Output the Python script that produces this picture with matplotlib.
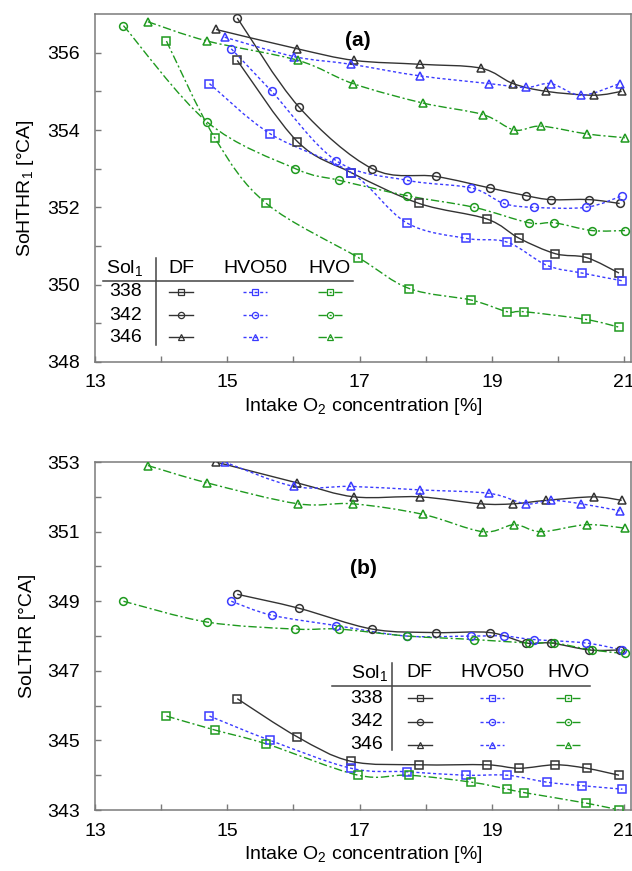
import matplotlib
matplotlib.use("Agg")
import matplotlib.pyplot as plt
import numpy as np
from matplotlib.path import Path
from matplotlib.patches import PathPatch

plt.rcParams['font.family'] = ['Liberation Sans', 'DejaVu Sans']
plt.rcParams['font.size'] = 14
plt.rcParams['mathtext.default'] = 'regular'

# intake O2 [%] for each fuel / start of injection
x_df_338 = [15.15, 16.06, 16.87, 17.90, 18.92, 19.41, 19.96, 20.43, 20.92]
x_df_342 = [15.15, 16.08, 17.19, 18.15, 18.97, 19.52, 19.89, 20.47, 20.93]
x_df_346 = [14.83, 16.06, 16.92, 17.91, 18.83, 19.32, 19.82, 20.54, 20.96]
x_h50_338 = [14.73, 15.65, 16.87, 17.71, 18.60, 19.23, 19.83, 20.36, 20.97]
x_h50_342 = [15.06, 15.67, 16.65, 17.71, 18.69, 19.18, 19.63, 20.42, 20.97]
x_h50_346 = [14.96, 16.01, 16.87, 17.91, 18.96, 19.51, 19.89, 20.35, 20.93]
x_hvo_338 = [14.08, 14.81, 15.59, 16.98, 17.75, 18.69, 19.23, 19.49, 20.42, 20.92]
x_hvo_342 = [13.43, 14.70, 16.03, 16.69, 17.72, 18.73, 19.56, 19.94, 20.51, 21.01]
x_hvo_346 = [13.80, 14.70, 16.07, 16.90, 17.95, 18.86, 19.34, 19.74, 20.43, 21.01]

# (a) SoHTHR1 [deg CA]
a_df_338 = [355.8, 353.7, 352.9, 352.1, 351.7, 351.2, 350.8, 350.7, 350.3]
a_df_342 = [356.9, 354.6, 353.0, 352.8, 352.5, 352.3, 352.2, 352.2, 352.1]
a_df_346 = [356.6, 356.1, 355.8, 355.7, 355.6, 355.2, 355.0, 354.9, 355.0]
a_h50_338 = [355.2, 353.9, 352.9, 351.6, 351.2, 351.1, 350.5, 350.3, 350.1]
a_h50_342 = [356.1, 355.0, 353.2, 352.7, 352.5, 352.1, 352.0, 352.0, 352.3]
a_h50_346 = [356.4, 355.9, 355.7, 355.4, 355.2, 355.1, 355.2, 354.9, 355.2]
a_hvo_338 = [356.3, 353.8, 352.1, 350.7, 349.9, 349.6, 349.3, 349.3, 349.1, 348.9]
a_hvo_342 = [356.7, 354.2, 353.0, 352.7, 352.3, 352.0, 351.6, 351.6, 351.4, 351.4]
a_hvo_346 = [356.8, 356.3, 355.8, 355.2, 354.7, 354.4, 354.0, 354.1, 353.9, 353.8]

# (b) SoLTHR [deg CA]
b_df_338 = [346.2, 345.1, 344.4, 344.3, 344.3, 344.2, 344.3, 344.2, 344.0]
b_df_342 = [349.2, 348.8, 348.2, 348.1, 348.1, 347.8, 347.8, 347.6, 347.6]
b_df_346 = [353.0, 352.4, 352.0, 352.0, 351.8, 351.8, 351.9, 352.0, 351.9]
b_h50_338 = [345.7, 345.0, 344.2, 344.1, 344.0, 344.0, 343.8, 343.7, 343.6]
b_h50_342 = [349.0, 348.6, 348.3, 348.0, 348.0, 348.0, 347.9, 347.8, 347.6]
b_h50_346 = [353.0, 352.3, 352.3, 352.2, 352.1, 351.8, 351.9, 351.8, 351.6]
b_hvo_338 = [345.7, 345.3, 344.9, 344.0, 344.0, 343.8, 343.6, 343.5, 343.2, 343.0]
b_hvo_342 = [349.0, 348.4, 348.2, 348.2, 348.0, 347.9, 347.8, 347.8, 347.6, 347.5]
b_hvo_346 = [352.9, 352.4, 351.8, 351.8, 351.5, 351.0, 351.2, 351.0, 351.2, 351.1]

fuels = ['DF', 'HVO50', 'HVO']
sois = ['338', '342', '346']

styles = {
    'DF': dict(color='#333333', ls='-'),
    'HVO50': dict(color='#3b3bff', ls=(0, (2.2, 1.8))),
    'HVO': dict(color='#1f9a1f', ls=(0, (6, 2, 1.5, 2))),
}
markers = {'338': ('s', 5.2), '342': ('o', 5.6), '346': ('^', 5.8)}

xs = {
    ('DF', '338'): x_df_338, ('DF', '342'): x_df_342, ('DF', '346'): x_df_346,
    ('HVO50', '338'): x_h50_338, ('HVO50', '342'): x_h50_342, ('HVO50', '346'): x_h50_346,
    ('HVO', '338'): x_hvo_338, ('HVO', '342'): x_hvo_342, ('HVO', '346'): x_hvo_346,
}
ys_a = {
    ('DF', '338'): a_df_338, ('DF', '342'): a_df_342, ('DF', '346'): a_df_346,
    ('HVO50', '338'): a_h50_338, ('HVO50', '342'): a_h50_342, ('HVO50', '346'): a_h50_346,
    ('HVO', '338'): a_hvo_338, ('HVO', '342'): a_hvo_342, ('HVO', '346'): a_hvo_346,
}
ys_b = {
    ('DF', '338'): b_df_338, ('DF', '342'): b_df_342, ('DF', '346'): b_df_346,
    ('HVO50', '338'): b_h50_338, ('HVO50', '342'): b_h50_342, ('HVO50', '346'): b_h50_346,
    ('HVO', '338'): b_hvo_338, ('HVO', '342'): b_hvo_342, ('HVO', '346'): b_hvo_346,
}

SPINE = '#7a7a7a'


def smooth_path(x, y):
    # cubic bezier through the points (spreadsheet style smoothed line)
    p = np.column_stack([x, y]).astype(float)
    n = len(p)
    verts = [p[0]]
    codes = [Path.MOVETO]
    for i in range(n - 1):
        p0 = p[i - 1] if i > 0 else p[i]
        p3 = p[i + 2] if i + 2 < n else p[i + 1]
        c1 = p[i] + (p[i + 1] - p0) / 6.0
        c2 = p[i + 1] - (p3 - p[i]) / 6.0
        verts += [c1, c2, p[i + 1]]
        codes += [Path.CURVE4] * 3
    return Path(verts, codes)


def draw_series(ax, ys):
    for f in fuels:
        for s in sois:
            x = xs[(f, s)]
            y = ys[(f, s)]
            st = styles[f]
            ax.add_patch(PathPatch(smooth_path(x, y), fill=False, edgecolor=st['color'],
                                   linestyle=st['ls'], linewidth=1.0, zorder=2))
            m, ms = markers[s]
            ax.plot(x, y, ls='none', marker=m, ms=ms, mfc='none', mec=st['color'],
                    mew=1.1, zorder=3)


def style_axes(ax, ylim, ylabel):
    ax.set_xlim(13, 21.1)
    ax.set_ylim(*ylim)
    ax.set_xticks([13, 15, 17, 19, 21])
    ax.set_xticks(np.arange(14, 21, 2), minor=True)
    ax.set_yticks(np.arange(ylim[0], ylim[1] + 0.1, 2))
    ax.set_yticks(np.arange(ylim[0] + 1, ylim[1], 2), minor=True)
    ax.tick_params(which='both', direction='in', length=4.5, width=1, color=SPINE,
                   labelsize=14, top=False, right=False)
    ax.tick_params(axis='x', pad=9)
    ax.tick_params(axis='y', pad=11)
    for sp in ax.spines.values():
        sp.set_color(SPINE)
        sp.set_linewidth(1.1)
    ax.set_xlabel('Intake O$_2$ concentration [%]', fontsize=14, labelpad=3)
    ax.set_ylabel(ylabel, fontsize=14, labelpad=8)


def draw_table(ax, x_sol, x_cols, x_rule, y_head, y_rule, x_vert, y_vert, y_rows, x_rowlab):
    tr = ax.transAxes
    ax.text(x_sol, y_head, 'Sol$_1$', transform=tr, ha='center', va='center', fontsize=14)
    for f, xc in zip(fuels, x_cols):
        ax.text(xc, y_head, f, transform=tr, ha='center', va='center', fontsize=14)
    ax.plot(x_rule, [y_rule, y_rule], transform=tr, color='#444444', lw=1.1)
    ax.plot([x_vert, x_vert], y_vert, transform=tr, color='#444444', lw=1.1)
    for s, yr in zip(sois, y_rows):
        ax.text(x_rowlab, yr, s, transform=tr, ha='right', va='center', fontsize=14)
        for f, xc in zip(fuels, x_cols):
            st = styles[f]
            ax.plot([xc - 0.022, xc + 0.022], [yr, yr], transform=tr, color=st['color'],
                    ls=st['ls'], lw=1.0)
            m, ms = markers[s]
            ax.plot([xc], [yr], transform=tr, marker=m, ms=ms * 0.8, mfc='none',
                    mec=st['color'], mew=0.9)


fig = plt.figure(figsize=(6.32, 8.71), dpi=100)
ax1 = fig.add_axes([0.1503, 0.5844, 0.848, 0.3995])
ax2 = fig.add_axes([0.1503, 0.0700, 0.848, 0.3995])

draw_series(ax1, ys_a)
style_axes(ax1, (348, 357), 'SoHTHR$_1$ [°CA]')
ax1.text(0.49, 0.925, '(a)', transform=ax1.transAxes, ha='center', va='center',
         fontsize=15, fontweight='bold')
draw_table(ax1, 0.056, [0.161, 0.299, 0.438], [0.015, 0.481], 0.270, 0.233,
           0.113, [0.299, 0.049], [0.202, 0.135, 0.071], 0.088)

draw_series(ax2, ys_b)
style_axes(ax2, (343, 353), 'SoLTHR [°CA]')
ax2.text(0.50, 0.695, '(b)', transform=ax2.transAxes, ha='center', va='center',
         fontsize=15, fontweight='bold')
draw_table(ax2, 0.513, [0.606, 0.741, 0.883], [0.442, 0.9235], 0.394, 0.356,
           0.5547, [0.423, 0.172], [0.321, 0.254, 0.187], 0.537)

fig.savefig('out.png', dpi=100)
